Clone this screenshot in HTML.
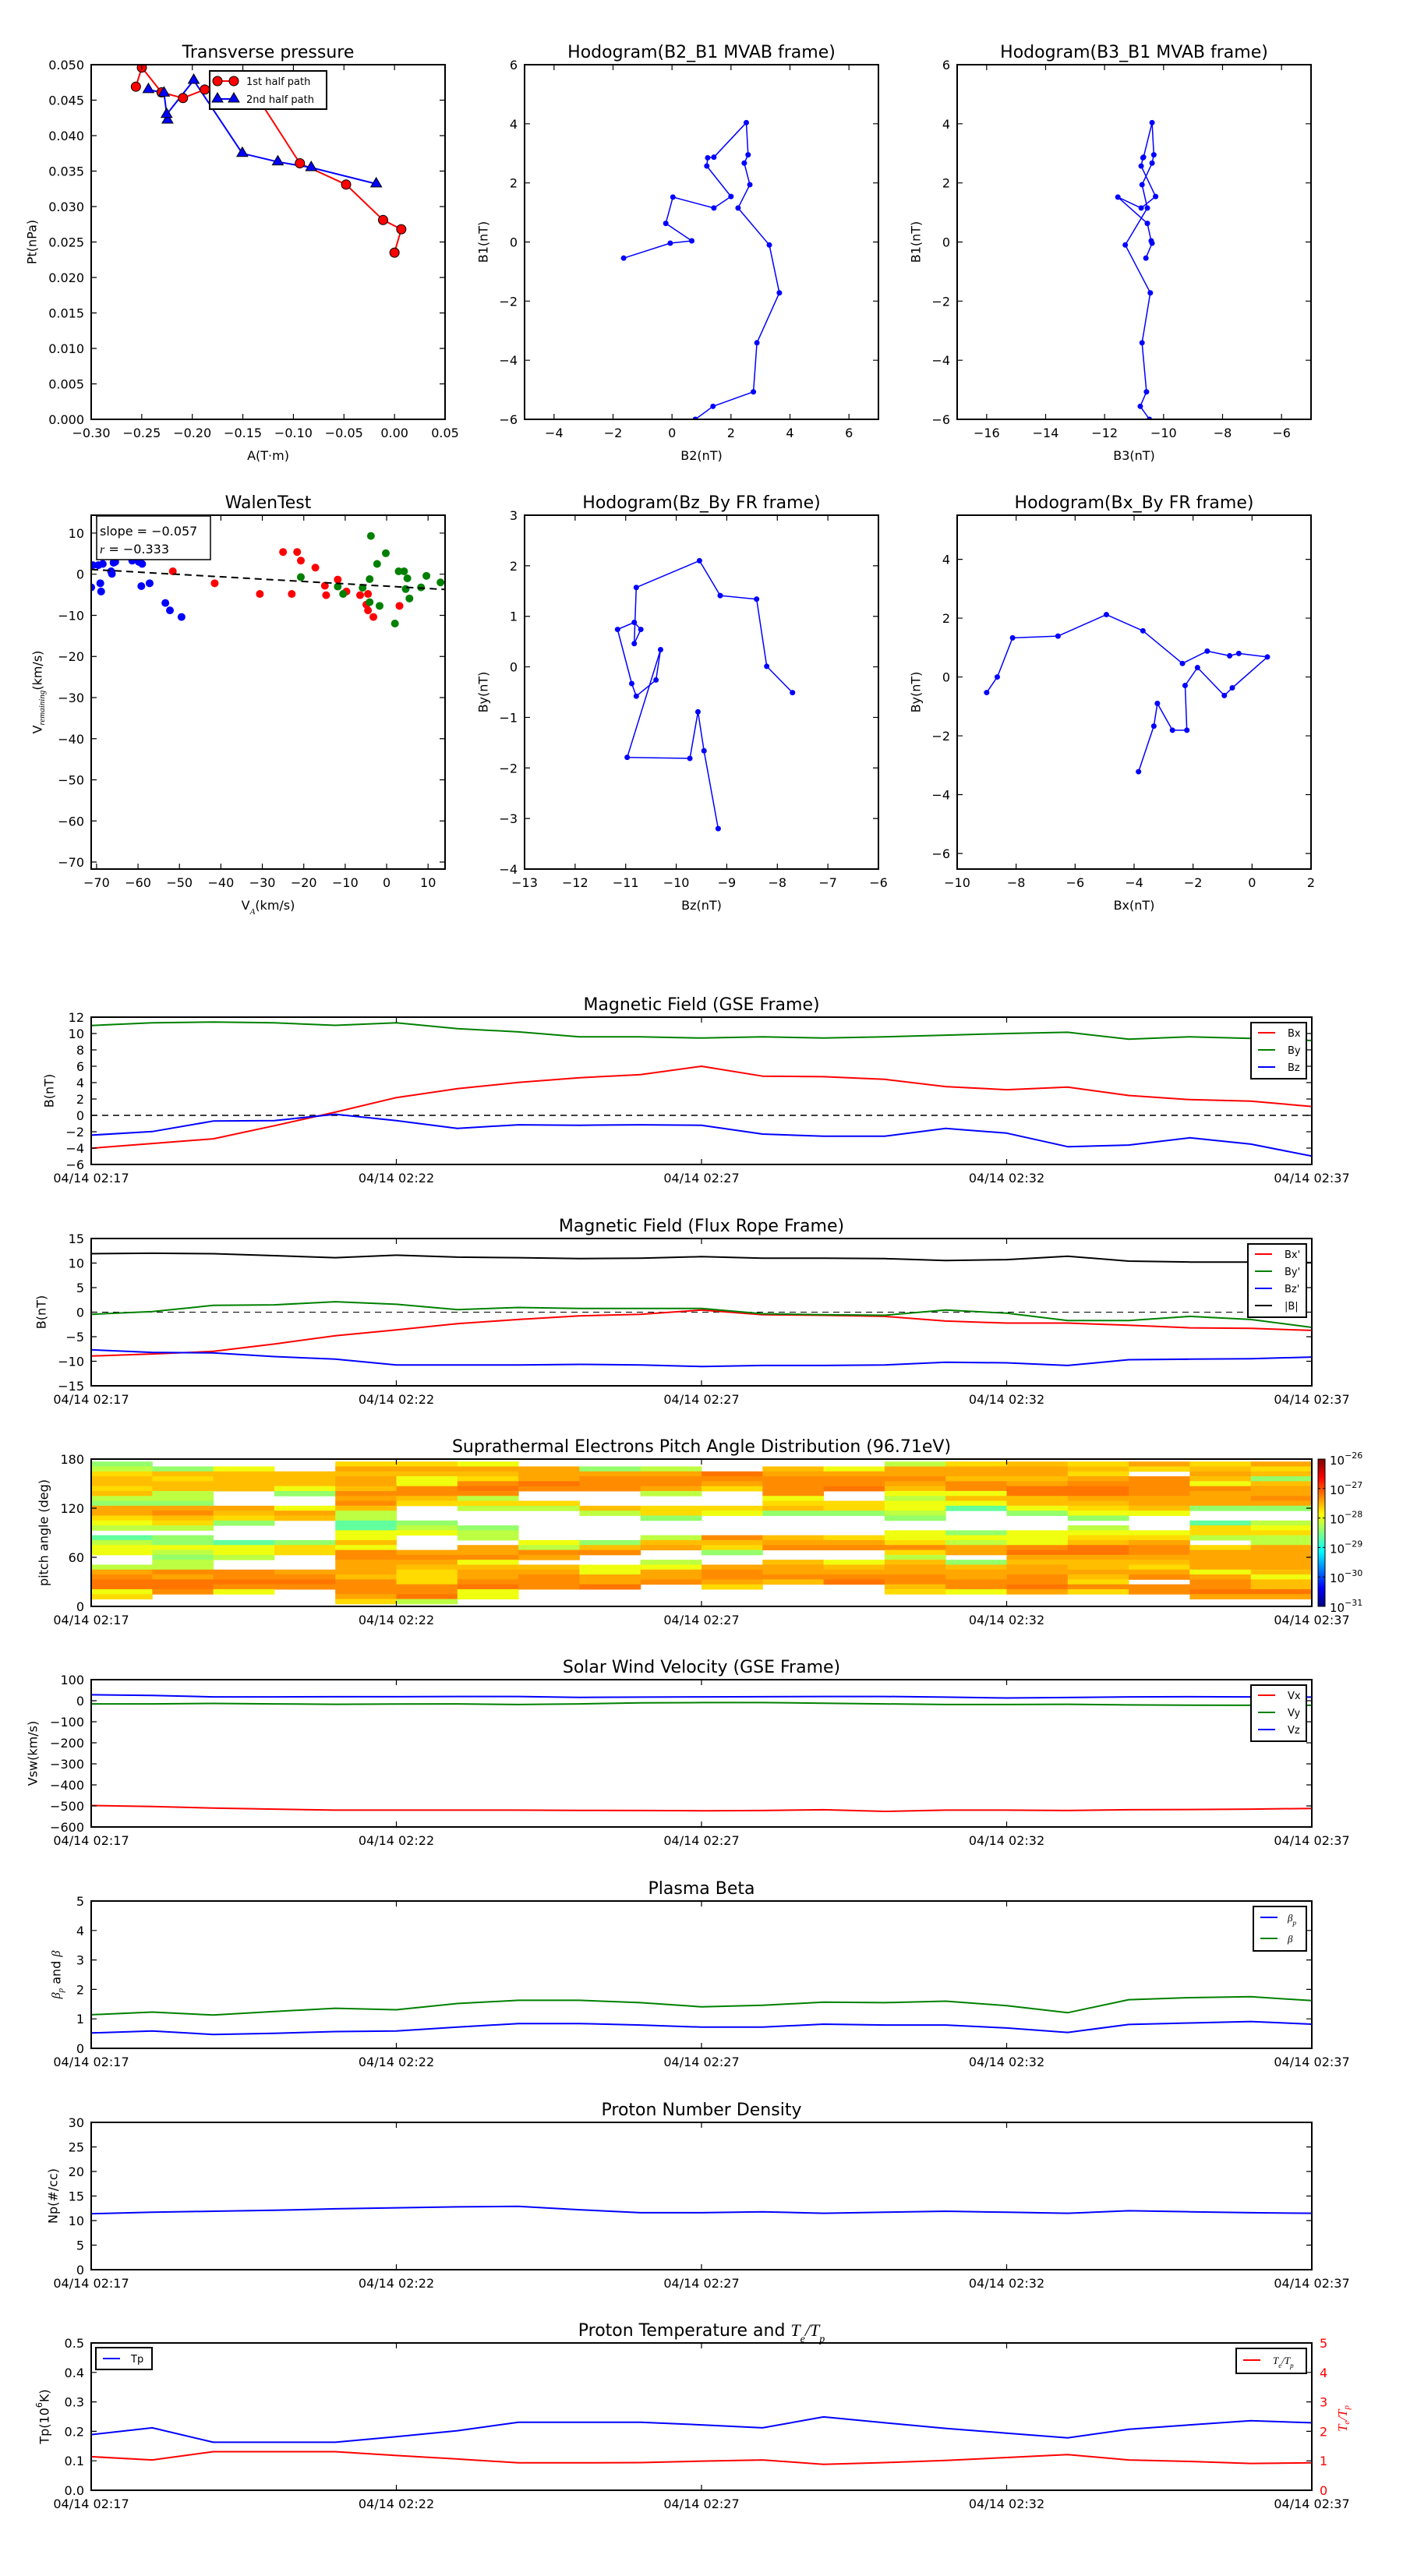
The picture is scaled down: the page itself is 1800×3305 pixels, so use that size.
<!DOCTYPE html>
<html><head><meta charset="utf-8">
<style>
html,body{margin:0;padding:0;background:#fff}
svg text{font-family:"DejaVu Sans","Liberation Sans",sans-serif;fill:#000}
.m{font-family:"Liberation Serif",serif;font-style:italic}
</style></head>
<body>
<svg id="fig" width="1800" height="3300" viewBox="0 0 1800 3300" xmlns="http://www.w3.org/2000/svg">
<rect width="1800" height="3300" fill="#fff"/>
</svg>
<script>
// ---------- data ----------
const pr1A=[-0.2558,-0.2499,-0.2304,-0.2092,-0.1877,-0.145,-0.0936,-0.0479,-0.0113,0.0067,0.0];
const pr1Pt=[0.0469,0.0496,0.0461,0.0453,0.0465,0.0475,0.0361,0.0331,0.0281,0.0268,0.0235];
const pr2A=[-0.2434,-0.228,-0.2245,-0.2254,-0.1986,-0.1505,-0.1154,-0.0824,-0.0181];
const pr2Pt=[0.0465,0.0460,0.0422,0.0430,0.0478,0.0375,0.0363,0.0355,0.0332];
const mvB1=[-0.545,-0.04,0.04,0.63,1.52,1.15,1.54,2.57,2.85,2.87,4.04,2.95,2.67,1.94,1.15,-0.10,-1.72,-3.41,-5.07,-5.56,-6.0];
const mvB2=[-1.64,-0.06,0.67,-0.21,0.03,1.42,2.0,1.18,1.21,1.42,2.52,2.58,2.45,2.64,2.24,3.30,3.64,2.88,2.76,1.39,0.79];
const mvB3=[-10.6,-10.39,-10.42,-10.55,-11.55,-10.76,-10.27,-10.76,-10.7,-10.68,-10.39,-10.33,-10.39,-10.73,-10.55,-11.3,-10.45,-10.73,-10.58,-10.79,-10.48];
const walBlueVA=[-71.3,-70.9,-69.6,-69.1,-68.9,-68.5,-66.5,-66.3,-65.9,-65.5,-61.4,-59.8,-59.0,-59.2,-57.2,-53.4,-52.3,-49.5];
const walBlueVr=[-3.2,2.2,2.2,-2.2,-4.2,2.5,0.7,0.1,2.8,3.0,3.3,3.0,2.5,-2.9,-2.2,-7.0,-8.8,-10.4];
const walRedVA=[-57.9,-51.6,-41.5,-30.6,-25.0,-22.9,-21.6,-20.7,-17.2,-14.9,-14.6,-11.8,-9.7,-6.4,-4.9,-4.5,-4.5,-3.2,3.1];
const walRedVr=[14.1,0.7,-2.2,-4.8,5.4,-4.8,5.4,3.3,1.6,-2.8,-5.1,-1.3,-4.2,-5.1,-7.4,-4.8,-8.8,-10.4,-7.7];
const walGreenVA=[-20.7,-11.8,-10.5,-5.8,-4.1,-3.8,-4.1,-2.3,-1.7,-0.2,2.0,2.9,4.2,5.0,4.6,5.5,8.3,9.6,13.0];
const walGreenVr=[-0.7,-3.0,-4.8,-3.3,-1.2,9.3,-6.8,2.5,-7.7,5.1,-12.0,0.7,0.7,-1.0,-3.6,-5.9,-3.2,-0.4,-2.0];
const walSlope=-0.057, walIntercept=-2.9, walR=-0.333;
const frHodoBz=[-9.17,-9.45,-9.57,-9.73,-10.97,-10.31,-10.40,-10.79,-10.88,-11.16,-10.83,-10.70,-10.83,-10.79,-9.54,-9.13,-8.41,-8.21,-7.70];
const frHodoBy=[-3.20,-1.66,-0.89,-1.81,-1.79,0.34,-0.26,-0.58,-0.33,0.74,0.88,0.74,0.46,1.57,2.10,1.41,1.34,0.01,-0.51];
const frHodoBx=[-9.0,-8.64,-8.12,-6.58,-4.94,-3.70,-2.36,-1.52,-0.76,-0.45,0.52,-0.67,-0.94,-1.85,-2.27,-2.21,-2.70,-3.21,-3.33,-3.85];
const frHodoBy2=[-0.53,0.0,1.33,1.39,2.12,1.57,0.46,0.88,0.72,0.80,0.68,-0.37,-0.63,0.32,-0.29,-1.81,-1.81,-0.90,-1.67,-3.22];

const minutes=[0,1,2,3,4,5,6,7,8,9,10,11,12,13,14,15,16,17,18,19,20];
const timeTicks=[0,5,10,15,20];
const timeTickLabels=['04/14 02:17','04/14 02:22','04/14 02:27','04/14 02:32','04/14 02:37'];
const gseBx=[-4.02,-3.44,-2.87,-1.27,0.39,2.17,3.26,4.02,4.6,4.98,6.0,4.79,4.72,4.4,3.51,3.13,3.45,2.43,1.92,1.73,1.09];
const gseBy=[10.98,11.3,11.4,11.3,11.0,11.3,10.6,10.2,9.6,9.6,9.45,9.6,9.45,9.6,9.8,10.0,10.15,9.3,9.6,9.4,9.14];
const gseBz=[-2.42,-1.98,-0.70,-0.64,0.13,-0.64,-1.59,-1.15,-1.21,-1.15,-1.21,-2.29,-2.55,-2.55,-1.59,-2.17,-3.83,-3.63,-2.74,-3.51,-4.98];
const frBx=[-8.94,-8.51,-7.98,-6.49,-4.79,-3.62,-2.34,-1.49,-0.74,-0.43,0.43,-0.53,-0.64,-0.85,-1.81,-2.23,-2.23,-2.66,-3.19,-3.30,-3.72];
const frBy=[-0.43,0.11,1.38,1.49,2.13,1.60,0.53,0.96,0.74,0.74,0.74,-0.32,-0.53,-0.64,0.43,-0.21,-1.70,-1.70,-0.85,-1.49,-3.09];
const frBz=[-7.66,-8.19,-8.30,-9.04,-9.57,-10.74,-10.74,-10.74,-10.64,-10.74,-11.06,-10.85,-10.85,-10.74,-10.21,-10.32,-10.85,-9.68,-9.57,-9.47,-9.15];
const frBt=[11.9,12.0,11.9,11.5,11.1,11.6,11.2,11.1,10.9,11.0,11.3,11.0,11.0,10.9,10.5,10.7,11.4,10.4,10.2,10.2,10.1];
const padColumns=["12455452166432.0233..2678834.",".1545522167542.113212276887..",".35555...6541...0332..77873..","..55531..365....144...6787...","46566576752200335377666577764","465337754...123...67654447782","3654787242...122.66735667833.",".66687..42......3276.56777...",".16777...52.....157..33668...",".267762..441...256..23667....","..8764...43....7541..67764...",".5677773451....567..56675....",".36778..441....467..35678....","266765323321..3347425667754..","4665773530....13266.1566773..","56656885531...3337865667786..","454678865431.23458865565474..","64.77776653...3467765467.77..","4565376661..0442.46666367786.","6451566761..2342266666535586."];
const padLevelLog=[-28.65,-28.4,-28.2,-27.95,-27.7,-27.56,-27.44,-27.31,-27.2];
const cbarTicks=[-31,-30,-29,-28,-27,-26];
const swVx=[-498,-503,-510,-515,-520,-520,-520,-520,-521,-522,-523,-522,-518,-526,-520,-520,-522,-518,-517,-515,-512];
const swVy=[-15,-15,-13,-15,-17,-16,-15,-18,-15,-10,-9,-9,-12,-15,-18,-18,-17,-20,-21,-22,-22];
const swVz=[28,25,18,18,19,19,20,20,16,17,18,19,20,20,17,13,15,18,19,18,17];
const betaP=[0.52,0.59,0.47,0.51,0.57,0.59,0.72,0.84,0.84,0.79,0.72,0.72,0.82,0.79,0.79,0.69,0.54,0.81,0.86,0.91,0.82];
const betaAll=[1.14,1.23,1.13,1.25,1.36,1.31,1.52,1.63,1.63,1.55,1.41,1.46,1.57,1.55,1.60,1.45,1.21,1.65,1.72,1.75,1.62];
const npDens=[11.4,11.7,11.9,12.1,12.4,12.6,12.8,12.9,12.2,11.6,11.6,11.8,11.5,11.7,11.9,11.7,11.5,12.0,11.8,11.6,11.5];
const tpTemp=[0.189,0.212,0.163,0.163,0.163,0.182,0.202,0.231,0.231,0.231,0.222,0.212,0.249,0.229,0.210,0.194,0.178,0.207,0.222,0.236,0.229];
const teTp=[1.14,1.03,1.31,1.31,1.31,1.18,1.06,0.93,0.93,0.94,0.99,1.03,0.88,0.94,1.01,1.11,1.21,1.03,0.98,0.91,0.93];

// ---------- helpers ----------
const NS='http://www.w3.org/2000/svg';
const fig=document.getElementById('fig');
function mk(tag,attrs,parent){const e=document.createElementNS(NS,tag);for(const k in attrs)e.setAttribute(k,attrs[k]);(parent||fig).appendChild(e);return e;}
function scale(d0,d1,r0,r1){return v=>r0+(v-d0)*(r1-r0)/(d1-d0);}
function fmt(v,d){const s=Math.abs(v).toFixed(d);return (v<-1e-9?'\u2212':'')+s;}
function rng(a,b,s){const r=[];for(let v=a;v<=b+1e-9;v+=s)r.push(+v.toFixed(6));return r;}
let clipN=0;
function axes(o){
  const g=mk('g',{});
  
  
  const sx=scale(o.xd[0],o.xd[1],o.x0,o.x1);
  const sy=scale(o.yd[0],o.yd[1],o.y1,o.y0);
  const id='clip'+(clipN++);
  const cp=mk('clipPath',{id:id},g);
  mk('rect',{x:o.x0,y:o.y0,width:o.x1-o.x0,height:o.y1-o.y0},cp);
  const plot=mk('g',{'clip-path':'url(#'+id+')'},g);
  
  
  o.xt.forEach((v,i)=>{
    const x=sx(v);
    const tk=mk('path',{d:'M'+x+','+o.y1+'v-7M'+x+','+o.y0+'v7',stroke:'#000','stroke-width':1.2},g);
    
    
    const lb=mk('text',{x:x,y:o.y1+23,'text-anchor':'middle','font-size':16},g);
    
    
    lb.textContent=o.xtl[i];
  });
  o.yt.forEach((v,i)=>{
    const y=sy(v);
    const tk=mk('path',{d:'M'+o.x0+','+y+'h7M'+o.x1+','+y+'h-7',stroke:'#000','stroke-width':1.2},g);
    
    
    const lb=mk('text',{x:o.x0-9,y:y+6,'text-anchor':'end','font-size':16},g);
    
    
    lb.textContent=o.ytl[i];
  });
  const fr=mk('rect',{x:o.x0,y:o.y0,width:o.x1-o.x0,height:o.y1-o.y0,fill:'none',stroke:'#000','stroke-width':2},g);
  
  
  const t=mk('text',{x:(o.x0+o.x1)/2,y:o.y0-9,'text-anchor':'middle','font-size':22},g);
  
  
  t.innerHTML=o.title;
  if(o.xlabel){
    const xl=mk('text',{x:(o.x0+o.x1)/2,y:o.y1+52,'text-anchor':'middle','font-size':16},g);
    
    
    xl.innerHTML=o.xlabel;
  }
  const cy=(o.y0+o.y1)/2;
  const yl=mk('text',{x:o.ylx,y:cy,'text-anchor':'middle','dominant-baseline':'central','font-size':16,transform:'rotate(-90 '+o.ylx+' '+cy+')'},g);
  
  
  yl.innerHTML=o.ylabel;
  return {sx,sy,plot,g,o};
}
function pline(ax,xs,ys,color,name,w,dash){
  const pts=xs.map((x,i)=>ax.sx(x).toFixed(1)+','+ax.sy(ys[i]).toFixed(1)).join(' ');
  const p=mk('polyline',{points:pts,fill:'none',stroke:color,'stroke-width':w||2,'stroke-linejoin':'round'},ax.plot);
  if(dash)p.setAttribute('stroke-dasharray',dash);
  
  
  return p;
}
function dots(ax,xs,ys,color,r,name,stroke){
  xs.forEach((x,i)=>{
    const c=mk('circle',{cx:ax.sx(x),cy:ax.sy(ys[i]),r:r,fill:color,stroke:stroke||'none','stroke-width':1},ax.plot);
    
    
  });
}
function tris(ax,xs,ys,color,name){
  xs.forEach((x,i)=>{
    const X=ax.sx(x),Y=ax.sy(ys[i]);
    const p=mk('path',{d:'M'+X+','+(Y-8)+'l7,12h-14z',fill:color,stroke:'#000','stroke-width':1},ax.plot);
    
    
  });
}
function legend(x,y,w,h,entries,name,first,step){
  const g=mk('g',{});
  
  
  mk('rect',{x:x,y:y,width:w,height:h,fill:'#fff',stroke:'#000','stroke-width':2},g);
  entries.forEach((e,i)=>{
    const yy=y+first+i*step;
    const ln=mk('line',{x1:x+9,x2:x+31,y1:yy,y2:yy,stroke:e.c,'stroke-width':2},g);
    
    
    const t=mk('text',{x:x+e.tx,y:yy+5,'font-size':13},g);
    
    
    t.innerHTML=e.l;
  });
  return g;
}
function fmtList(a,d){return a.map(v=>fmt(v,d));}

// ---------- top row ----------
const R1y0=83,R1y1=538,R2y0=661,R2y1=1115;
let ax=axes({name:'transverse-pressure-chart',x0:117,x1:571,y0:R1y0,y1:R1y1,xd:[-0.30,0.05],yd:[0,0.05],
 xt:rng(-0.30,0.05,0.05),xtl:fmtList(rng(-0.30,0.05,0.05),2),yt:rng(0,0.05,0.005),ytl:fmtList(rng(0,0.05,0.005),3),
 title:'Transverse pressure',xlabel:'A(T\u00b7m)',ylabel:'Pt(nPa)',ylx:41});
pline(ax,pr1A,pr1Pt,'#ff0000','first-half-path-line',2);
pline(ax,pr2A,pr2Pt,'#0000ff','second-half-path-line',2);
dots(ax,pr1A,pr1Pt,'#ff0000',6,'first-half-marker','#000');
tris(ax,pr2A,pr2Pt,'#0000ff','second-half-marker');
(function(){
  const g=mk('g',{});
  
  
  mk('rect',{x:269,y:91,width:150,height:49,fill:'#fff',stroke:'#000','stroke-width':2},g);
  mk('line',{x1:279,x2:300,y1:104,y2:104,stroke:'#ff0000','stroke-width':2},g);
  mk('circle',{cx:279,cy:104,r:6,fill:'#ff0000',stroke:'#000'},g);
  mk('circle',{cx:300,cy:104,r:6,fill:'#ff0000',stroke:'#000'},g);
  mk('line',{x1:279,x2:300,y1:127,y2:127,stroke:'#0000ff','stroke-width':2},g);
  mk('path',{d:'M279,119l7,12h-14zM300,119l7,12h-14z',fill:'#0000ff',stroke:'#000'},g);
  const t1=mk('text',{x:316,y:109,'font-size':13},g);
  
  
  t1.textContent='1st half path';
  const t2=mk('text',{x:316,y:132,'font-size':13},g);
  
  
  t2.textContent='2nd half path';
})();

ax=axes({name:'hodogram-b2-b1-chart',x0:673,x1:1127,y0:R1y0,y1:R1y1,xd:[-5,7],yd:[-6,6],
 xt:rng(-4,6,2),xtl:fmtList(rng(-4,6,2),0),yt:rng(-6,6,2),ytl:fmtList(rng(-6,6,2),0),
 title:'Hodogram(B2_B1 MVAB frame)',xlabel:'B2(nT)',ylabel:'B1(nT)',ylx:620});
pline(ax,mvB2,mvB1,'#0000ff','hodogram-line',1.5);
dots(ax,mvB2,mvB1,'#0000ff',3.5,'hodogram-point');

ax=axes({name:'hodogram-b3-b1-chart',x0:1228,x1:1682,y0:R1y0,y1:R1y1,xd:[-17,-5],yd:[-6,6],
 xt:rng(-16,-6,2),xtl:fmtList(rng(-16,-6,2),0),yt:rng(-6,6,2),ytl:fmtList(rng(-6,6,2),0),
 title:'Hodogram(B3_B1 MVAB frame)',xlabel:'B3(nT)',ylabel:'B1(nT)',ylx:1175});
pline(ax,mvB3,mvB1,'#0000ff','hodogram-line',1.5);
dots(ax,mvB3,mvB1,'#0000ff',3.5,'hodogram-point');

// ---------- second row ----------
ax=axes({name:'walen-test-chart',x0:117,x1:571,y0:R2y0,y1:R2y1,xd:[-71.3,14.1],yd:[-71.7,14.35],
 xt:rng(-70,10,10),xtl:fmtList(rng(-70,10,10),0),yt:rng(-70,10,10),ytl:fmtList(rng(-70,10,10),0),
 title:'WalenTest',xlabel:'V<tspan class="m" baseline-shift="sub" font-size="11">A</tspan>(km/s)',
 ylabel:'V<tspan class="m" baseline-shift="sub" font-size="11">remaining</tspan>(km/s)',ylx:48});
dots(ax,walBlueVA,walBlueVr,'#0000ff',5,'walen-point-blue');
dots(ax,walRedVA,walRedVr,'#ff0000',5,'walen-point-red');
dots(ax,walGreenVA,walGreenVr,'#008000',5,'walen-point-green');
(function(){
  const xs=[ax.o.xd[0],ax.o.xd[1]];
  const ys=xs.map(x=>walSlope*x+walIntercept);
  pline(ax,xs,ys,'#000','walen-fit-line',2,'9,6');
  const g=mk('g',{});
  
  
  mk('rect',{x:124,y:662,width:146,height:56,fill:'#fff',stroke:'#000','stroke-width':1.5},g);
  const t1=mk('text',{x:128,y:687,'font-size':16},g);
  
  
  t1.textContent='slope = '+fmt(walSlope,3);
  const t2=mk('text',{x:128,y:710,'font-size':16},g);
  
  
  t2.innerHTML='<tspan class="m">r</tspan> = '+fmt(walR,3);
})();

ax=axes({name:'hodogram-bz-by-chart',x0:673,x1:1127,y0:R2y0,y1:R2y1,xd:[-13,-6],yd:[-4,3],
 xt:rng(-13,-6,1),xtl:fmtList(rng(-13,-6,1),0),yt:rng(-4,3,1),ytl:fmtList(rng(-4,3,1),0),
 title:'Hodogram(Bz_By FR frame)',xlabel:'Bz(nT)',ylabel:'By(nT)',ylx:620});
pline(ax,frHodoBz,frHodoBy,'#0000ff','hodogram-line',1.5);
dots(ax,frHodoBz,frHodoBy,'#0000ff',3.5,'hodogram-point');

ax=axes({name:'hodogram-bx-by-chart',x0:1228,x1:1682,y0:R2y0,y1:R2y1,xd:[-10,2],yd:[-6.53,5.5],
 xt:rng(-10,2,2),xtl:fmtList(rng(-10,2,2),0),yt:rng(-6,4,2),ytl:fmtList(rng(-6,4,2),0),
 title:'Hodogram(Bx_By FR frame)',xlabel:'Bx(nT)',ylabel:'By(nT)',ylx:1175});
pline(ax,frHodoBx,frHodoBy2,'#0000ff','hodogram-line',1.5);
dots(ax,frHodoBx,frHodoBy2,'#0000ff',3.5,'hodogram-point');

// ---------- time series ----------
function ts(name,top,yd,yt,ytl,title,ylabel,ylx){
  return axes({name:name,x0:117,x1:1683,y0:top,y1:top+189,xd:[0,20],yd:yd,xt:timeTicks,xtl:timeTickLabels,yt:yt,ytl:ytl,title:title,ylabel:ylabel,ylx:ylx});
}
const RED='#ff0000',GRN='#008000',BLU='#0000ff';

ax=ts('magnetic-field-gse-chart',1305,[-6,12],rng(-6,12,2),fmtList(rng(-6,12,2),0),'Magnetic Field (GSE Frame)','B(nT)',63);
pline(ax,[0,20],[0,0],'#000','zero-line',1.5,'8,6');
pline(ax,minutes,gseBx,RED,'bx-line');
pline(ax,minutes,gseBy,GRN,'by-line');
pline(ax,minutes,gseBz,BLU,'bz-line');
legend(1605,1312,71,72,[{c:RED,l:'Bx',tx:47},{c:GRN,l:'By',tx:47},{c:BLU,l:'Bz',tx:47}],'gse-legend',13,22);

ax=ts('magnetic-field-flux-rope-chart',1589,[-15,15],rng(-15,15,5),fmtList(rng(-15,15,5),0),'Magnetic Field (Flux Rope Frame)','B(nT)',53);
pline(ax,[0,20],[0,0],'#000','zero-line',1,'8,6');
pline(ax,minutes,frBx,RED,'bx-prime-line');
pline(ax,minutes,frBy,GRN,'by-prime-line');
pline(ax,minutes,frBz,BLU,'bz-prime-line');
pline(ax,minutes,frBt,'#000','b-magnitude-line');
legend(1601,1596,75,94,[{c:RED,l:"Bx'",tx:47},{c:GRN,l:"By'",tx:47},{c:BLU,l:"Bz'",tx:47},{c:'#000',l:'|B|',tx:47}],'flux-rope-legend',13,22);

function jet(f){f=Math.max(0,Math.min(1,f));const c=v=>Math.round(255*Math.max(0,Math.min(1,v)));
  return 'rgb('+c(1.5-Math.abs(4*f-3))+','+c(1.5-Math.abs(4*f-2))+','+c(1.5-Math.abs(4*f-1))+')';}
ax=ts('pitch-angle-distribution-chart',1872,[0,180],[0,60,120,180],['0','60','120','180'],'Suprathermal Electrons Pitch Angle Distribution (96.71eV)','pitch angle (deg)',56);
padColumns.forEach((col,j)=>{
  for(let i=0;i<col.length;i++){
    const ch=col[i]; if(ch==='.')continue;
    const v=padLevelLog[+ch];
    const top=177-6*i, bot=171-6*i;
    const x0=ax.sx(minutes[j]), x1=ax.sx(minutes[j+1]);
    const r=mk('rect',{x:x0,y:ax.sy(top),width:x1-x0+0.5,height:ax.sy(bot)-ax.sy(top)+0.5,fill:jet((v+31)/5)},ax.plot);
    
    
  }
});
(function(){
  const g=mk('g',{});
  
  
  const defs=mk('defs',{},g);
  const lg=mk('linearGradient',{id:'jetg',x1:0,y1:1,x2:0,y2:0},defs);
  [0,0.11,0.125,0.34,0.375,0.5,0.625,0.64,0.875,0.91,1].forEach(f=>mk('stop',{offset:f,'stop-color':jet(f)},lg));
  mk('rect',{x:1691,y:1872,width:9,height:189,fill:'url(#jetg)',stroke:'#000','stroke-width':1},g);
  const cs=scale(-31,-26,2061,1872);
  cbarTicks.forEach(v=>{
    const y=cs(v);
    mk('path',{d:'M1691,'+y+'h3M1700,'+y+'h-3',stroke:'#000'},g);
    const t=mk('text',{x:1706,y:y+7,'font-size':15},g);
    
    
    t.innerHTML='10<tspan dy="-8" font-size="11">\u2212'+Math.abs(v)+'</tspan>';
  });
})();

ax=ts('solar-wind-velocity-chart',2155,[-600,100],rng(-600,100,100),fmtList(rng(-600,100,100),0),'Solar Wind Velocity (GSE Frame)','Vsw(km/s)',42);
pline(ax,minutes,swVx,RED,'vx-line');
pline(ax,minutes,swVy,GRN,'vy-line');
pline(ax,minutes,swVz,BLU,'vz-line');
legend(1605,2162,71,72,[{c:RED,l:'Vx',tx:47},{c:GRN,l:'Vy',tx:47},{c:BLU,l:'Vz',tx:47}],'velocity-legend',13,22);

ax=ts('plasma-beta-chart',2439,[0,5],rng(0,5,1),fmtList(rng(0,5,1),0),'Plasma Beta','<tspan class="m">\u03b2</tspan><tspan class="m" baseline-shift="sub" font-size="11">p</tspan> and <tspan class="m">\u03b2</tspan>',72);
pline(ax,minutes,betaP,BLU,'beta-p-line');
pline(ax,minutes,betaAll,GRN,'beta-line');
legend(1608,2446,68,57,[{c:BLU,l:'<tspan class="m">\u03b2</tspan><tspan class="m" baseline-shift="sub" font-size="9">p</tspan>',tx:44},{c:GRN,l:'<tspan class="m">\u03b2</tspan>',tx:44}],'beta-legend',14,27);

ax=ts('proton-density-chart',2723,[0,30],rng(0,30,5),fmtList(rng(0,30,5),0),'Proton Number Density','Np(#/cc)',68);
pline(ax,minutes,npDens,BLU,'density-line');

ax=ts('proton-temperature-chart',3006,[0,0.5],rng(0,0.5,0.1),fmtList(rng(0,0.5,0.1),1),
 'Proton Temperature and <tspan class="m">T</tspan><tspan class="m" baseline-shift="sub" font-size="14">e</tspan><tspan class="m">/T</tspan><tspan class="m" baseline-shift="sub" font-size="14">p</tspan>',
 'Tp(10<tspan baseline-shift="super" font-size="11">6</tspan>K)',57);
pline(ax,minutes,tpTemp,BLU,'tp-line');
(function(){
  const sy2=scale(0,5,3195,3006);
  const sx=ax.sx;
  const pts=minutes.map((m,i)=>sx(m).toFixed(1)+','+sy2(teTp[i]).toFixed(1)).join(' ');
  const p=mk('polyline',{points:pts,fill:'none',stroke:RED,'stroke-width':2},ax.plot);
  
  
  rng(0,5,1).forEach(v=>{
    const t=mk('text',{x:1693,y:sy2(v)+6,'font-size':16,fill:RED,style:'fill:#ff0000'},ax.g);
    
    
    t.textContent=String(v);
  });
  const yl=mk('text',{x:1722,y:3103,'text-anchor':'middle','dominant-baseline':'central','font-size':17,style:'fill:#ff0000',transform:'rotate(-90 1722 3103)'},ax.g);
  
  
  yl.innerHTML='<tspan class="m">T</tspan><tspan class="m" baseline-shift="sub" font-size="11">e</tspan><tspan class="m">/T</tspan><tspan class="m" baseline-shift="sub" font-size="11">p</tspan>';
})();
legend(123,3012,72,28,[{c:BLU,l:'Tp',tx:45}],'tp-legend',14,22);
legend(1586,3013,90,32,[{c:RED,l:'<tspan class="m">T</tspan><tspan class="m" baseline-shift="sub" font-size="9">e</tspan><tspan class="m">/T</tspan><tspan class="m" baseline-shift="sub" font-size="9">p</tspan>',tx:47}],'te-tp-legend',15,22);
</script>
</body></html>
